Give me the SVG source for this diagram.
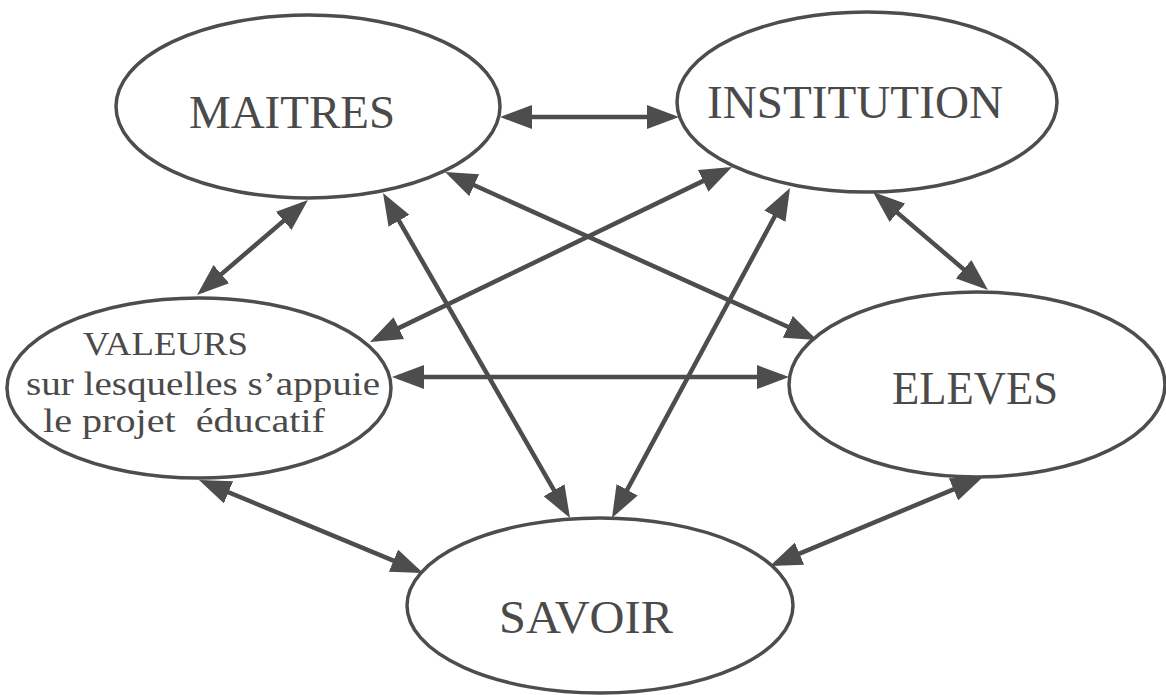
<svg xmlns="http://www.w3.org/2000/svg" width="1166" height="695" viewBox="0 0 1166 695">
<style>
.node{fill:#fff;stroke:#4d4d4d;stroke-width:3.5}
.lbl{font-family:"Liberation Serif","Times New Roman",serif;fill:#4a4a4a}
.big{font-size:47px}
.small{font-size:34px}
.conn{stroke:#4d4d4d;stroke-width:4.5;fill:none;marker-start:url(#ah);marker-end:url(#ah)}
</style>
<defs>
<marker id="ah" viewBox="0 0 32 24" refX="26" refY="12" markerWidth="32" markerHeight="24" markerUnits="userSpaceOnUse" orient="auto-start-reverse">
<path d="M0,0 L32,12 L0,24 z" fill="#4d4d4d"/>
</marker>
</defs>
<rect width="1166" height="695" fill="#fff"/>
<g id="connectors">
<line class="conn" x1="506" y1="117" x2="673" y2="117"/>
<line class="conn" x1="303.4" y1="203.9" x2="201.6" y2="291.1"/>
<line class="conn" x1="386" y1="198.2" x2="567" y2="512.8"/>
<line class="conn" x1="450.5" y1="174.5" x2="811.5" y2="337.5"/>
<line class="conn" x1="726.6" y1="169.6" x2="375.4" y2="339.4"/>
<line class="conn" x1="877.6" y1="195.9" x2="983.4" y2="286.1"/>
<line class="conn" x1="398" y1="377" x2="783" y2="377"/>
<line class="conn" x1="204.5" y1="482.3" x2="417.5" y2="570.7"/>
<line class="conn" x1="977.5" y1="479.3" x2="775.5" y2="563.7"/>
<line class="conn" x1="787.2" y1="193.3" x2="614.8" y2="512.7"/>
</g>
<g id="maitres">
<ellipse class="node" cx="308" cy="106.5" rx="192" ry="91.5"/>
<text class="lbl big" x="189" y="128" textLength="206" lengthAdjust="spacingAndGlyphs">MAITRES</text>
</g>
<g id="institution">
<ellipse class="node" cx="867" cy="102" rx="190" ry="90"/>
<text class="lbl big" x="707" y="118" textLength="296" lengthAdjust="spacingAndGlyphs">INSTITUTION</text>
</g>
<g id="valeurs">
<ellipse class="node" cx="199" cy="388" rx="192" ry="90"/>
<text class="lbl small" x="83" y="355" textLength="165" lengthAdjust="spacingAndGlyphs">VALEURS</text>
<text class="lbl small" x="26" y="395" textLength="354" lengthAdjust="spacingAndGlyphs">sur lesquelles s’appuie</text>
<text class="lbl small" x="43" y="432" textLength="282" lengthAdjust="spacingAndGlyphs" xml:space="preserve">le projet  éducatif</text>
</g>
<g id="eleves">
<ellipse class="node" cx="977" cy="384.5" rx="188" ry="92.5"/>
<text class="lbl big" x="892" y="404" textLength="166" lengthAdjust="spacingAndGlyphs">ELEVES</text>
</g>
<g id="savoir">
<ellipse class="node" cx="600" cy="605.5" rx="193" ry="87.5"/>
<text class="lbl big" x="499" y="633" textLength="174" lengthAdjust="spacingAndGlyphs">SAVOIR</text>
</g>
</svg>
